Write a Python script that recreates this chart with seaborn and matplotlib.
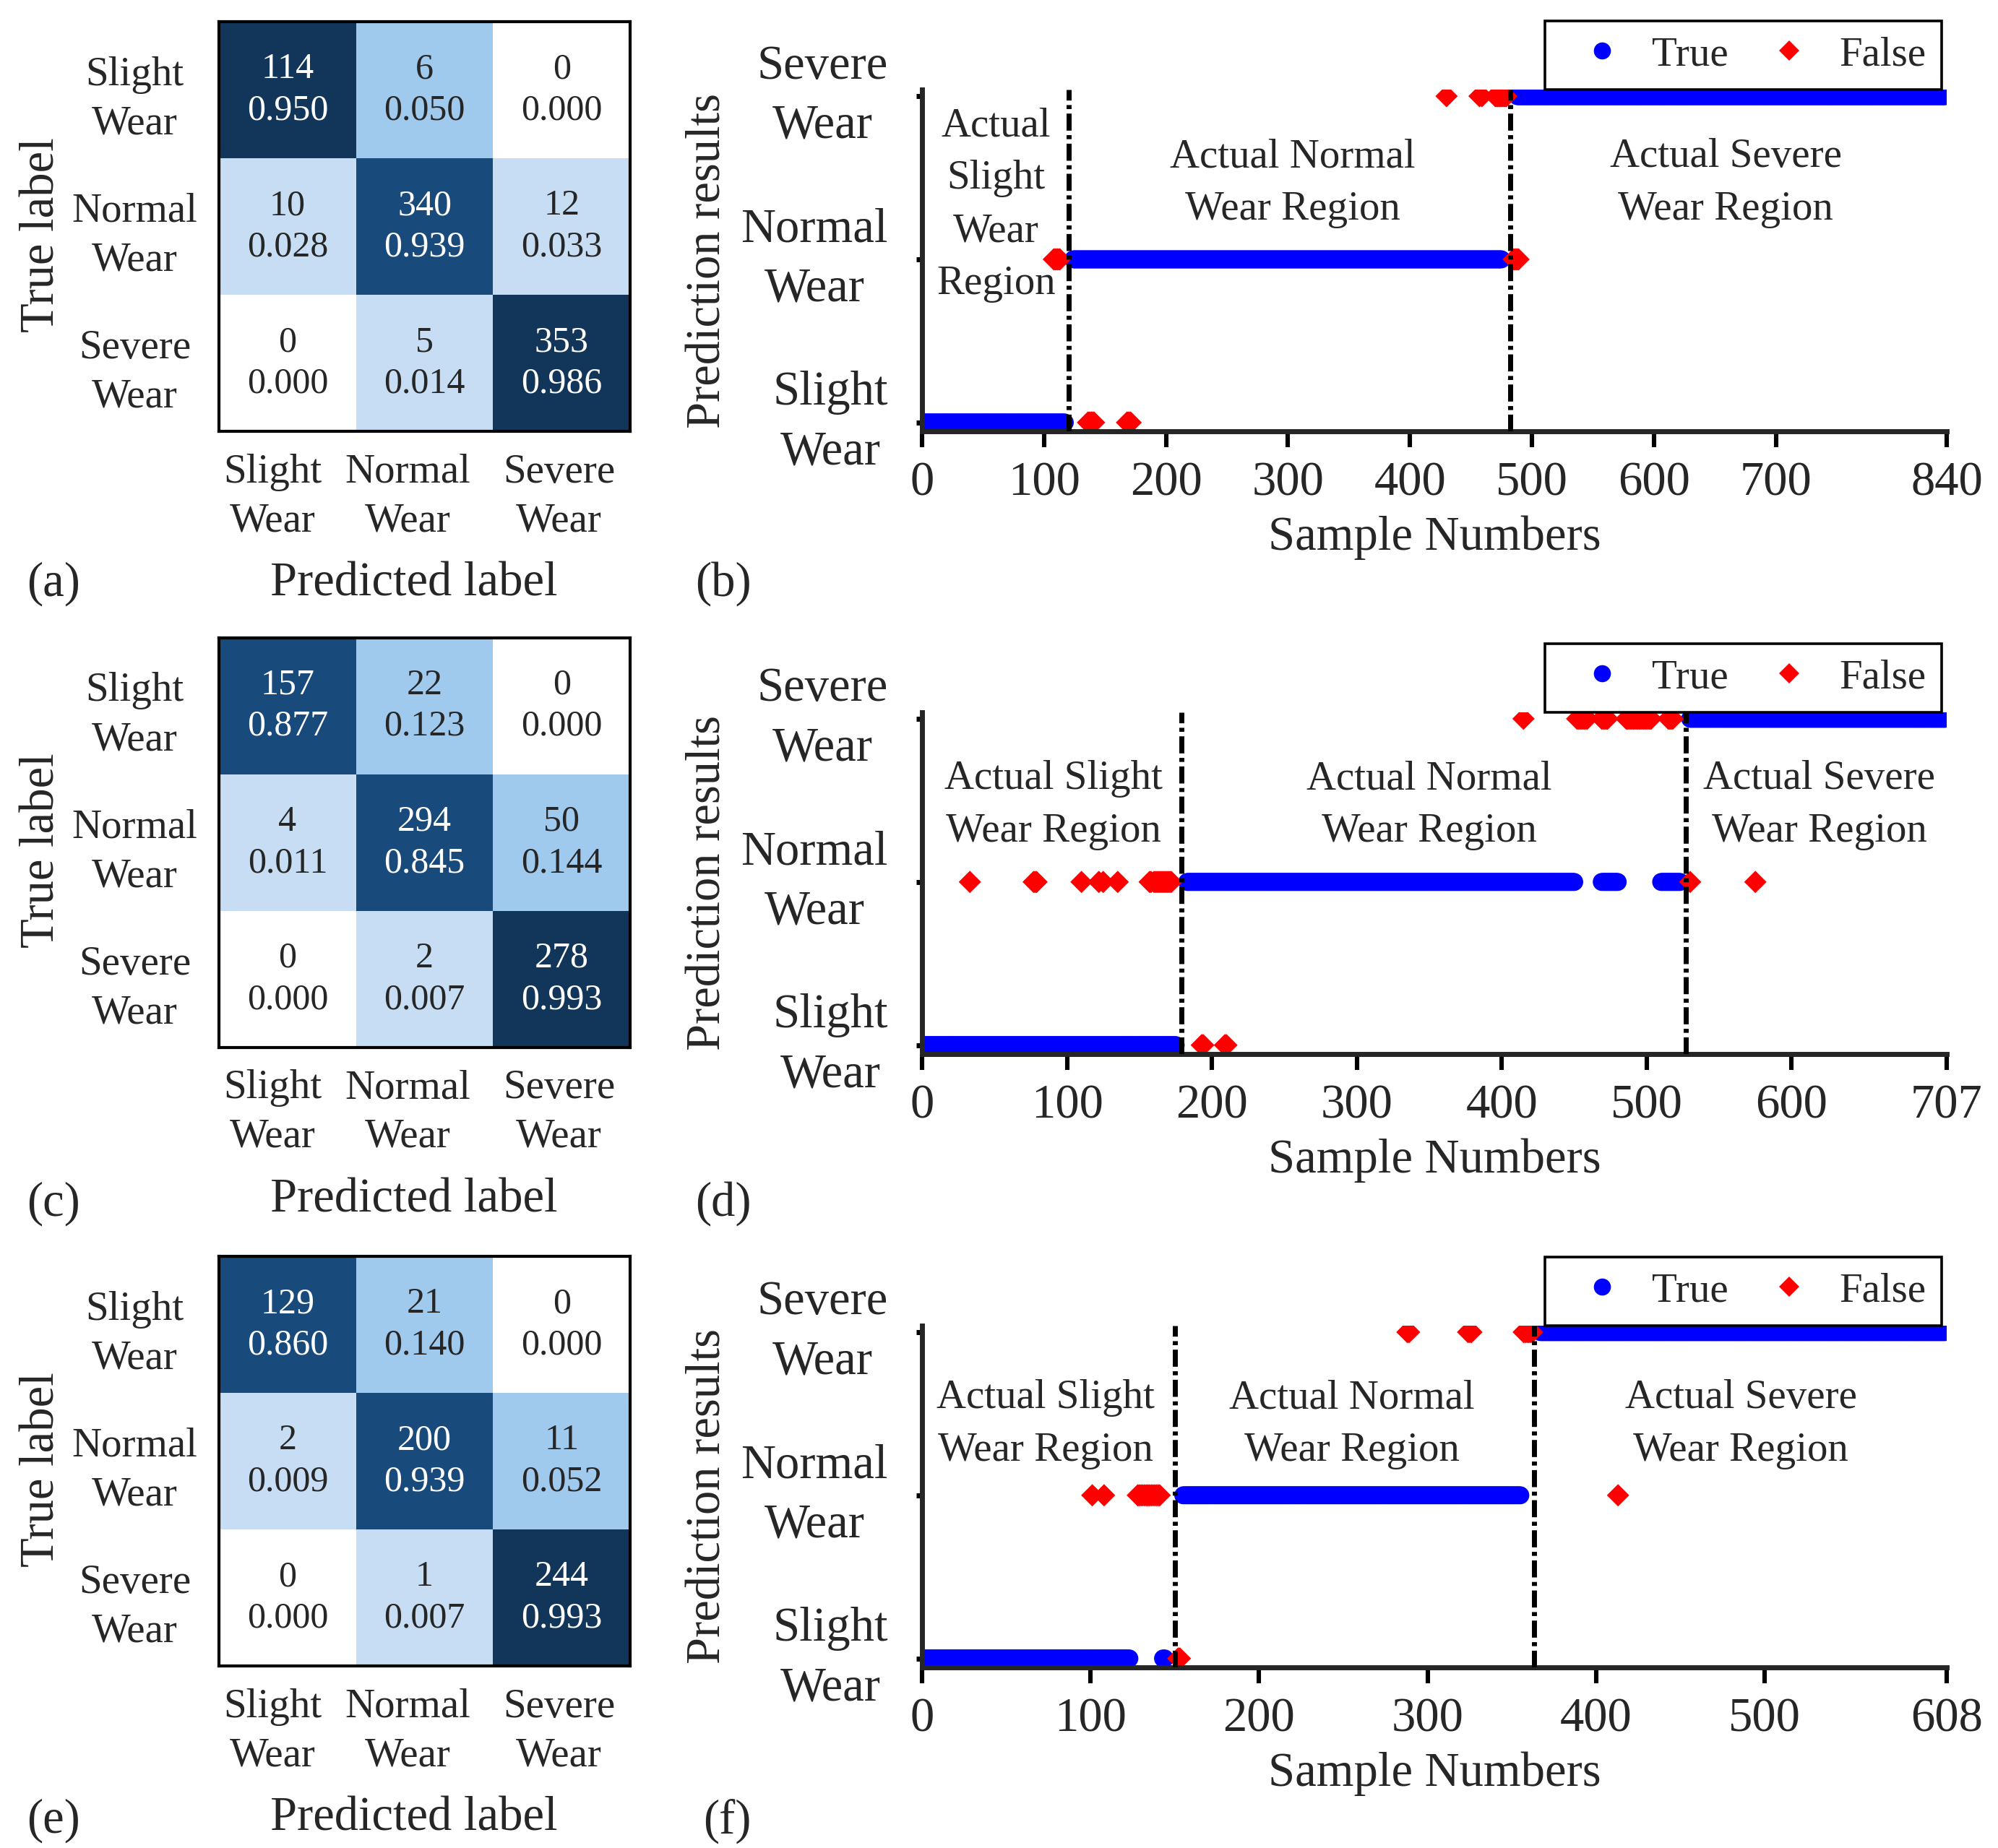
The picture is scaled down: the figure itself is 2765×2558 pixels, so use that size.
import numpy as np
import pandas as pd
import matplotlib
matplotlib.use("Agg")
import matplotlib.pyplot as plt
from matplotlib.colors import ListedColormap, BoundaryNorm
from matplotlib.lines import Line2D
import seaborn as sns

# ---- data ----
classes = ["Slight\nWear", "Normal\nWear", "Severe\nWear"]

# confusion matrices: counts and printed row ratios
cm_a_counts = [[114, 6, 0], [10, 340, 12], [0, 5, 353]]
cm_a_ratio = [[0.950, 0.050, 0.000], [0.028, 0.939, 0.033], [0.000, 0.014, 0.986]]
cm_c_counts = [[157, 22, 0], [4, 294, 50], [0, 2, 278]]
cm_c_ratio = [[0.877, 0.123, 0.000], [0.011, 0.845, 0.144], [0.000, 0.007, 0.993]]
cm_e_counts = [[129, 21, 0], [2, 200, 11], [0, 1, 244]]
cm_e_ratio = [[0.860, 0.140, 0.000], [0.009, 0.939, 0.052], [0.000, 0.007, 0.993]]

# prediction results as runs of sample numbers: (first, last, predicted class 0/1/2)
true_runs_b = [(0, 117, 0), (124, 475, 1), (488, 839, 2)]
false_runs_b = [(108, 113, 1), (136, 141, 0), (168, 171, 0), (430, 430, 2), (457, 457, 2),
                (459, 459, 2), (470, 479, 2), (485, 489, 1)]
true_runs_d = [(0, 175, 0), (183, 450, 1), (469, 480, 1), (510, 523, 1), (530, 706, 2)]
false_runs_d = [(33, 33, 1), (77, 79, 1), (110, 110, 1), (122, 122, 1), (125, 125, 1),
                (135, 135, 1), (157, 158, 1), (160, 172, 1), (193, 194, 0), (209, 210, 0),
                (415, 415, 2), (452, 459, 2), (469, 473, 2), (486, 503, 2), (515, 518, 2),
                (530, 530, 1), (575, 575, 1)]
true_runs_f = [(0, 123, 0), (143, 144, 0), (155, 355, 1), (367, 607, 2)]
false_runs_f = [(101, 101, 1), (108, 108, 1), (128, 141, 1), (152, 153, 0), (288, 289, 2),
                (324, 326, 2), (357, 362, 2), (413, 413, 1)]

ticks_b = [0, 100, 200, 300, 400, 500, 600, 700, 840]
ticks_d = [0, 100, 200, 300, 400, 500, 600, 707]
ticks_f = [0, 100, 200, 300, 400, 500, 608]
bounds_b = [120, 482]
bounds_d = [179, 527]
bounds_f = [150, 363]

sns.set_theme(style="ticks")
plt.rcParams['font.family'] = ['Liberation Serif', 'DejaVu Serif']

fig = plt.figure(figsize=(13.825, 12.79), dpi=200)

cm_colors = ['#ffffff', '#c6ddf3', '#a0c9ee', '#194a7c', '#12365a']
cm_cmap = ListedColormap(cm_colors)
cm_norm = BoundaryNorm([0, 1e-6, 0.04, 0.5, 0.945, 1.001], 5)


def draw_cm(rect, counts, ratio):
    ax = fig.add_axes(rect)
    annot = np.array([[f"{c}\n{r:.3f}" for c, r in zip(rc, rr)]
                      for rc, rr in zip(counts, ratio)])
    sns.heatmap(np.array(ratio), annot=annot, fmt="", cmap=cm_cmap, norm=cm_norm,
                cbar=False, ax=ax, annot_kws={'fontsize': 18, 'linespacing': 1.3})
    for s in ax.spines.values():
        s.set_visible(True)
        s.set_color('black')
        s.set_linewidth(1.5)
    # labels sit slightly off the cell centres in the original
    ax.set_xticks([0.39, 1.38, 2.48])
    ax.set_xticklabels(classes, rotation=0, linespacing=1.38)
    ax.set_yticks([0.57, 1.57, 2.57])
    ax.set_yticklabels(classes, rotation=0, linespacing=1.4, ha='center', va='center')
    ax.tick_params(length=0, labelsize=20.5)
    ax.tick_params(axis='y', pad=42)
    ax.tick_params(axis='x', pad=11)
    ax.set_xlabel("Predicted label", fontsize=24)
    ax.xaxis.label.set_va('center')
    ax.xaxis.set_label_coords(0.4735, -0.372)
    ax.set_ylabel("True label", fontsize=24)
    ax.yaxis.label.set_va('center')
    ax.yaxis.set_label_coords(-0.43, 0.48)
    return ax


def expand(runs):
    xs, ys = [], []
    for first, last, cls in runs:
        for i in range(first, last + 1):
            xs.append(i)
            ys.append(cls)
    return xs, ys


def draw_results(rect, true_runs, false_runs, xmax, xticks, bounds, notes):
    ax = fig.add_axes(rect)
    tx, ty = expand(true_runs)
    fx, fy = expand(false_runs)
    df = pd.DataFrame({'sample': tx + fx, 'pred': ty + fy,
                       'result': ['True'] * len(tx) + ['False'] * len(fx)})
    sns.scatterplot(data=df, x='sample', y='pred', hue='result', style='result', size='result',
                    palette={'True': '#0000ff', 'False': '#ff0000'},
                    markers={'True': 'o', 'False': 'D'},
                    sizes={'True': 80, 'False': 62},
                    linewidth=0, legend=False, ax=ax, zorder=2)
    for b in bounds:
        ax.axvline(b, color='black', ls=(0, (3.4, 0.9, 0.8, 0.9)), lw=2.5, zorder=3)
    ax.set_xlim(0, xmax)
    ax.set_ylim(-0.055, 2.04)
    ax.set_xticks(xticks)
    ax.set_yticks([0, 1, 2])
    ax.set_yticklabels(classes)
    for lbl in ax.get_yticklabels():
        lbl.set_multialignment('center')
        lbl.set_va('center')
        lbl.set_linespacing(1.45)
    sns.despine(ax=ax)
    ax.spines['left'].set_linewidth(2.5)
    ax.spines['bottom'].set_linewidth(2.5)
    ax.tick_params(axis='x', direction='out', length=8, width=2.2, labelsize=24, pad=7,
                   color='black')
    ax.tick_params(axis='y', direction='out', length=3, width=2.5, labelsize=24, pad=14,
                   color='black')
    ax.set_xlabel("Sample Numbers", fontsize=24)
    ax.xaxis.label.set_va('center')
    ax.xaxis.set_label_coords(0.5, -0.311)
    ax.set_ylabel("Prediction results", fontsize=24)
    ax.yaxis.label.set_va('center')
    ax.yaxis.set_label_coords(-0.209, 0.5)
    for x, y, t in notes:
        ax.text(x, y, t, ha='center', va='center', fontsize=20.5, linespacing=1.52)
    handles = [Line2D([], [], ls='none', marker='o', ms=8.5, mew=0, color='#0000ff'),
               Line2D([], [], ls='none', marker='D', ms=7.3, mew=0, color='#ff0000')]
    leg = ax.legend(handles, ['True', 'False'], ncol=2, loc='lower right',
                    bbox_to_anchor=(0.995, 1.0), borderaxespad=0, frameon=True,
                    fancybox=False, edgecolor='black', framealpha=1, fontsize=20.5,
                    handletextpad=0.22, columnspacing=0.47, borderpad=0.38, handlelength=2.0)
    leg.get_frame().set_linewidth(1.3)
    return ax


cm_x, cm_w, cm_h = 0.1096, 0.2058, 0.2218
sc_x, sc_w, sc_h = 0.4615, 0.5128, 0.185

draw_cm([cm_x, 0.7665, cm_w, cm_h], cm_a_counts, cm_a_ratio)
draw_cm([cm_x, 0.4332, cm_w, cm_h], cm_c_counts, cm_c_ratio)
draw_cm([cm_x, 0.0984, cm_w, cm_h], cm_e_counts, cm_e_ratio)

draw_results([sc_x, 0.7665, sc_w, sc_h], true_runs_b, false_runs_b, 840, ticks_b, bounds_b,
             [(60.7, 1.333, "Actual\nSlight\nWear\nRegion"),
              (304, 1.467, "Actual Normal\nWear Region"),
              (659, 1.467, "Actual Severe\nWear Region")])
draw_results([sc_x, 0.4296, sc_w, sc_h], true_runs_d, false_runs_d, 707, ticks_d, bounds_d,
             [(90.7, 1.469, "Actual Slight\nWear Region"),
              (350, 1.469, "Actual Normal\nWear Region"),
              (619, 1.469, "Actual Severe\nWear Region")])
draw_results([sc_x, 0.0977, sc_w, sc_h], true_runs_f, false_runs_f, 608, ticks_f, bounds_f,
             [(73.4, 1.435, "Actual Slight\nWear Region"),
              (255, 1.435, "Actual Normal\nWear Region"),
              (486, 1.435, "Actual Severe\nWear Region")])

for lab, x, y in [("(a)", 0.0269, 0.684), ("(b)", 0.362, 0.684),
                  ("(c)", 0.0269, 0.3486), ("(d)", 0.362, 0.3486),
                  ("(e)", 0.0269, 0.0146), ("(f)", 0.364, 0.0146)]:
    fig.text(x, y, lab, ha='center', va='center', fontsize=24)

fig.savefig("out.png", dpi=200)
